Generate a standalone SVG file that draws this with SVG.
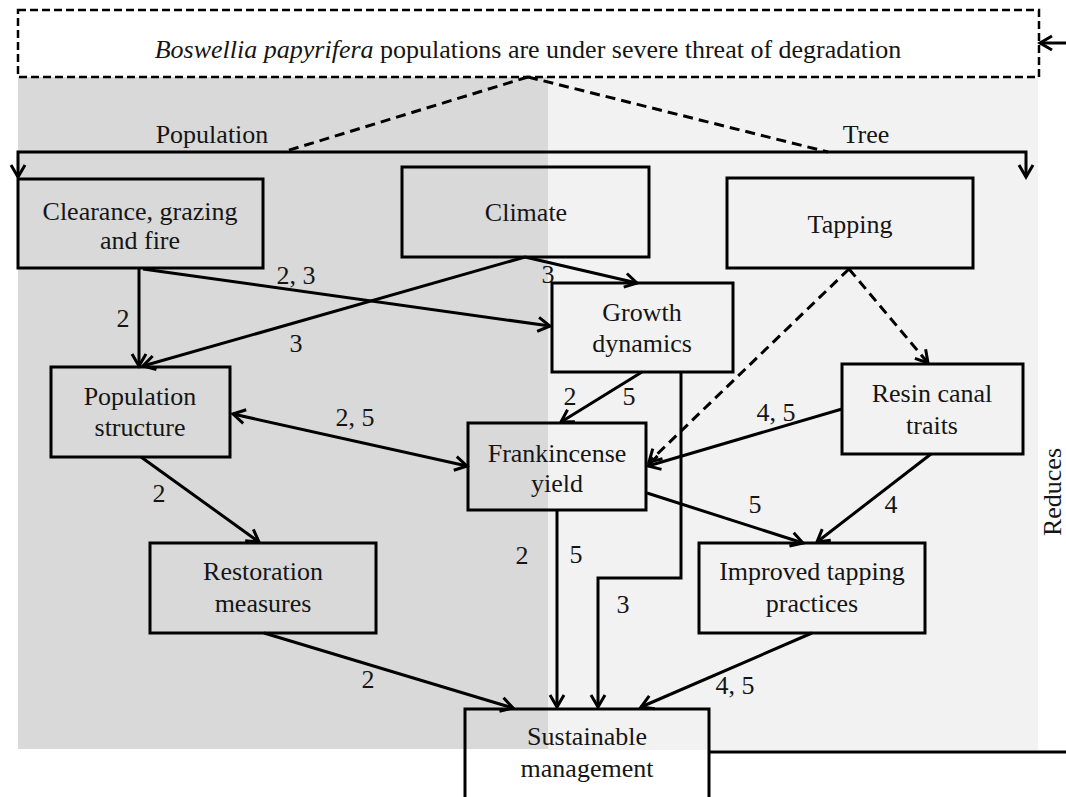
<svg xmlns="http://www.w3.org/2000/svg" width="1066" height="797" viewBox="0 0 1066 797">
<style>
text{font-family:'Liberation Serif','Times New Roman',Tinos,'DejaVu Serif',serif;font-size:26px;fill:#151515;text-anchor:middle}
.box{fill:none;stroke:#000;stroke-width:3}
.c{fill:none;stroke:#000;stroke-width:3}
.d{fill:none;stroke:#000;stroke-width:3;stroke-dasharray:10 6}
.a{marker-end:url(#ah)}
</style>
<defs>
<marker id="ah" viewBox="-14 -9 17 18" refX="0" refY="0" markerWidth="17" markerHeight="18" markerUnits="userSpaceOnUse" orient="auto-start-reverse">
<path d="M-12,-7 L0,0 L-12,7" fill="none" stroke="#000" stroke-width="3"/>
</marker>
</defs>
<rect x="18" y="77" width="530" height="672" fill="#d9d9d9"/>
<rect x="548" y="77" width="490" height="673" fill="#f2f2f2"/>

<g id="title">
<rect x="18" y="10" width="1021" height="67" fill="#fff" stroke="#000" stroke-width="2.5" stroke-dasharray="8 4"/>
<text x="528" y="58"><tspan font-style="italic">Boswellia papyrifera</tspan> populations are under severe threat of degradation</text>
</g>

<g id="connectors">
<path class="d" d="M528,77 L283,152"/>
<path class="d" d="M528,77 L828,152"/>
<path class="c" d="M18,177 V152 H1026 V177" marker-start="url(#ah)" marker-end="url(#ah)"/>
<path class="c a" d="M139,268 V366"/>
<path class="c a" d="M143,269 L550,326"/>
<path class="c a" d="M525,257 L143,366"/>
<path class="c a" d="M525,257 L637,283"/>
<path class="c" d="M233,414 L467,466" marker-start="url(#ah)" marker-end="url(#ah)"/>
<path class="c a" d="M141,457 L259,542"/>
<path class="c a" d="M264,633 L513,708"/>
<path class="c a" d="M642,372 L561,422"/>
<path class="c a" d="M681,372 V578 H598 V707"/>
<path class="c a" d="M557,510 V707"/>
<path class="d a" d="M849,269 L649,462"/>
<path class="d a" d="M849,269 L928,363"/>
<path class="c a" d="M842,409 L648,466"/>
<path class="c a" d="M647,493 L803,543"/>
<path class="c a" d="M931,454 L817,542"/>
<path class="c a" d="M812,633 L641,707"/>
<path class="c a" d="M709,752 H1085 V43 H1040"/>
<text x="212" y="143">Population</text>
<text x="866" y="143">Tree</text>
<text x="123" y="327">2</text>
<text x="296" y="284">2, 3</text>
<text x="296" y="352">3</text>
<text x="548" y="283">3</text>
<text x="355" y="426">2, 5</text>
<text x="159" y="502">2</text>
<text x="368" y="688">2</text>
<text x="570" y="405">2</text>
<text x="629" y="405">5</text>
<text x="776" y="421">4, 5</text>
<text x="522" y="564">2</text>
<text x="576" y="563">5</text>
<text x="623" y="613">3</text>
<text x="755" y="513">5</text>
<text x="891" y="513">4</text>
<text x="735" y="694">4, 5</text>
<text transform="translate(1061,492) rotate(-90)">Reduces</text>
</g>

<g id="clearance">
<rect class="box" x="18" y="179" width="245" height="89"/>
<text x="140" y="220">Clearance, grazing</text>
<text x="140" y="249">and fire</text>
</g>
<g id="climate">
<rect class="box" x="402" y="167" width="247" height="90"/>
<text x="526" y="221">Climate</text>
</g>
<g id="tapping">
<rect class="box" x="727" y="178" width="246" height="90"/>
<text x="850" y="233">Tapping</text>
</g>
<g id="growth">
<rect class="box" x="552" y="283" width="181" height="89"/>
<text x="642" y="321">Growth</text>
<text x="642" y="352">dynamics</text>
</g>
<g id="popstructure">
<rect class="box" x="51" y="367" width="179" height="90"/>
<text x="140" y="405">Population</text>
<text x="140" y="436">structure</text>
</g>
<g id="frankincense">
<rect class="box" x="468" y="423" width="178" height="87"/>
<text x="557" y="462">Frankincense</text>
<text x="557" y="492">yield</text>
</g>
<g id="resin">
<rect class="box" x="842" y="364" width="181" height="90"/>
<text x="932" y="402">Resin canal</text>
<text x="932" y="434">traits</text>
</g>
<g id="restoration">
<rect class="box" x="150" y="543" width="226" height="90"/>
<text x="263" y="580">Restoration</text>
<text x="263" y="612">measures</text>
</g>
<g id="improved">
<rect class="box" x="699" y="543" width="226" height="90"/>
<text x="812" y="580">Improved tapping</text>
<text x="812" y="612">practices</text>
</g>
<g id="sustainable">
<rect class="box" x="465" y="709" width="244" height="96"/>
<text x="587" y="745">Sustainable</text>
<text x="587" y="777">management</text>
</g>
</svg>
